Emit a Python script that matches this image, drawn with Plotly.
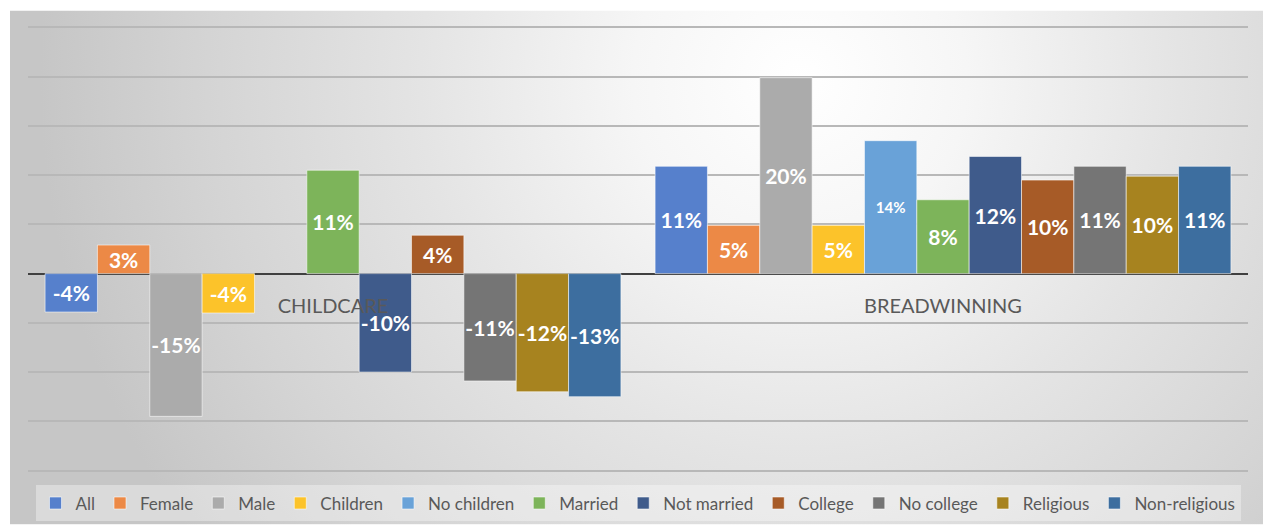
import base64
import plotly.graph_objects as go

categories = ["CHILDCARE", "BREADWINNING"]
series_names = ["All", "Female", "Male", "Children", "No children", "Married",
                "Not married", "College", "No college", "Religious", "Non-religious"]
all_vals = [-3.9, 10.9]
female_vals = [2.9, 4.9]
male_vals = [-14.5, 19.9]
children_vals = [-4.0, 4.9]
no_children_vals = [None, 13.5]
married_vals = [10.5, 7.5]
not_married_vals = [-10.0, 11.9]
college_vals = [3.9, 9.5]
no_college_vals = [-10.9, 10.9]
religious_vals = [-12.0, 9.9]
non_religious_vals = [-12.5, 10.9]

series_values = [all_vals, female_vals, male_vals, children_vals, no_children_vals,
                 married_vals, not_married_vals, college_vals, no_college_vals,
                 religious_vals, non_religious_vals]
colors = ["#5680CC", "#EC8946", "#ABABAB", "#FCC32A", "#69A2D8", "#7DB45A",
          "#3F5B8B", "#A75B27", "#757575", "#A7831F", "#3D6E9F"]
label_sizes = [21, 21, 21, 21, 15, 21, 21, 21, 21, 21, 21]

y_lo, y_hi = -20.15, 25.15   # slightly padded so edge gridlines stay visible

W, H = 1266, 525
px_per = 444 / 45.0
ml, mr = 28, 18
mt = 27 - (y_hi - 25) * px_per
mb = 54 - (-20 - y_lo) * px_per
pw, ph = W - ml - mr, H - mt - mb
bottom_px = H - mb

# radial gradient background (chart area)
bw, bh = 1253, 515
svg = f'''<svg xmlns="http://www.w3.org/2000/svg" width="{bw}" height="{bh}" viewBox="0 0 {bw} {bh}">
<defs><radialGradient id="g" gradientUnits="userSpaceOnUse" cx="790" cy="70" r="760">
<stop offset="0" stop-color="#ffffff"/>
<stop offset="0.22" stop-color="#f6f6f6"/>
<stop offset="0.5" stop-color="#e4e4e4"/>
<stop offset="0.78" stop-color="#d4d4d4"/>
<stop offset="1" stop-color="#c6c6c6"/>
</radialGradient></defs>
<rect x="0" y="0" width="{bw}" height="{bh}" fill="url(#g)"/>
</svg>'''
src = "data:image/svg+xml;base64," + base64.b64encode(svg.encode()).decode()

fig = go.Figure()
for name, vals, col, ts in zip(series_names, series_values, colors, label_sizes):
    fig.add_trace(go.Bar(
        name=name, x=categories, y=vals,
        marker=dict(color=col, line=dict(color="rgba(255,255,255,0.55)", width=1)),
        texttemplate="%{y:.0f}%", textposition="inside", insidetextanchor="middle",
        textangle=0, constraintext="none", cliponaxis=False,
        textfont=dict(family="Lato", size=ts, color="white", weight=700),
    ))

fig.update_layout(
    width=W, height=H,
    margin=dict(l=ml, r=mr, t=mt, b=mb, pad=0, autoexpand=False),
    paper_bgcolor="white", plot_bgcolor="rgba(0,0,0,0)",
    barmode="group", bargap=0.056, bargroupgap=0,
    showlegend=True,
    legend=dict(orientation="h", x=0.5, xanchor="center",
                y=(bottom_px - 504) / ph, yanchor="middle",
                bgcolor="rgba(255,255,255,0.35)",
                font=dict(family="Lato", size=17, color="#595959"),
                traceorder="normal", itemclick=False),
    images=[dict(source=src, xref="paper", yref="paper",
                 x=(10 - ml) / pw, y=(bottom_px - 10) / ph,
                 sizex=bw / pw, sizey=bh / ph, sizing="stretch",
                 xanchor="left", yanchor="top", layer="below")],
    xaxis=dict(anchor="free", position=(0 - y_lo) / (y_hi - y_lo),
               showline=False, showgrid=False,
               ticks="outside", ticklen=14, tickcolor="rgba(0,0,0,0)",
               tickfont=dict(family="Lato", size=20, color="#595959")),
    yaxis=dict(range=[y_lo, y_hi], dtick=5, tick0=0, showticklabels=False,
               showgrid=True, gridcolor="#b8b8b8", gridwidth=1.5, zeroline=True,
               zerolinecolor="#404040", zerolinewidth=2, showline=False),
)

fig.write_html("out.html")
